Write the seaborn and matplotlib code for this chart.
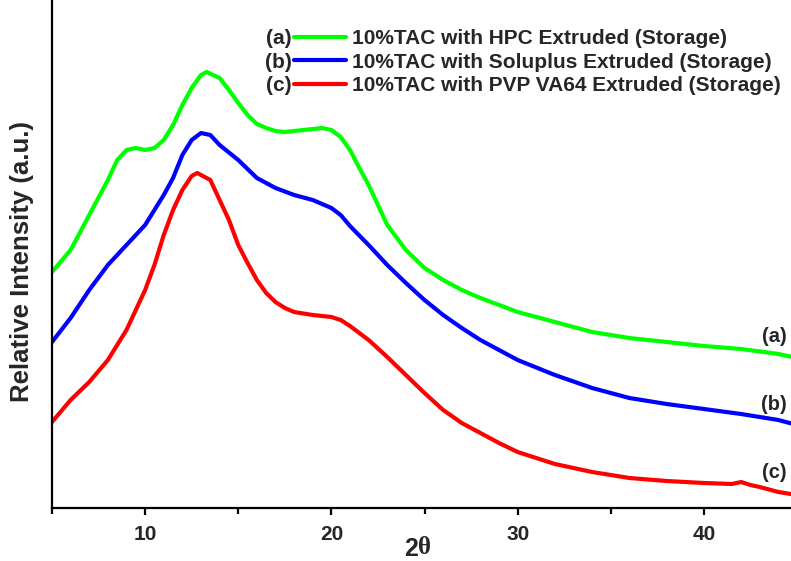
import matplotlib
matplotlib.use("Agg")
import matplotlib.pyplot as plt
from matplotlib.lines import Line2D
from matplotlib.ticker import MultipleLocator
import seaborn as sns
import pandas as pd

# ---- data (intensity in arbitrary units) ----
x_a = [5, 6, 7, 8, 8.5, 9, 9.5, 10, 10.5, 11, 11.5, 12, 12.5, 13, 13.3, 14, 14.5, 15, 15.5, 16,
       16.5, 17, 17.5, 18, 18.5, 19, 19.5, 20, 20.5, 21, 21.5, 22, 22.5, 23, 24, 25, 26, 27, 28,
       29, 30, 32, 34, 36, 38, 40, 42, 44, 45]
y_a = [236, 258, 293, 328, 348, 358, 360, 358, 360, 368, 383, 403, 420, 433, 436, 430, 418, 405,
       393, 384, 380, 377, 376, 377, 378, 379, 380, 378, 371, 358, 340, 323, 303, 283, 258, 240,
       228, 218, 210, 203, 196, 186, 176, 170, 166, 162, 159, 154, 150]

x_b = [5, 6, 7, 8, 9, 10, 10.5, 11, 11.5, 12, 12.5, 13, 13.5, 14, 15, 16, 17, 18, 19, 20, 20.5,
       21, 22, 23, 24, 25, 26, 27, 28, 29, 30, 32, 34, 36, 38, 40, 42, 44, 45]
y_b = [166, 190, 218, 243, 263, 283, 298, 313, 330, 353, 368, 375, 373, 363, 348, 330, 320, 313,
       308, 300, 293, 282, 263, 243, 225, 208, 193, 180, 168, 158, 148, 133, 120, 110, 104, 99,
       94, 88, 83]

x_c = [5, 6, 7, 8, 9, 10, 10.5, 11, 11.5, 12, 12.5, 12.8, 13.5, 14, 14.5, 15, 15.5, 16, 16.5,
       17, 17.5, 18, 19, 20, 20.5, 21, 22, 23, 24, 25, 26, 27, 28, 29, 30, 32, 34, 36, 38, 40,
       41.5, 42, 42.5, 43, 44, 45]
y_c = [86, 108, 126, 148, 178, 218, 243, 273, 298, 318, 332, 335, 328, 308, 288, 263, 245, 228,
       215, 206, 200, 196, 193, 191, 188, 182, 168, 151, 133, 115, 98, 85, 75, 65, 56, 44, 36,
       30, 27, 25, 24, 26, 23, 21, 16, 13]

series_names = ["10%TAC with HPC Extruded (Storage)",
                "10%TAC with Soluplus Extruded (Storage)",
                "10%TAC with PVP VA64 Extruded (Storage)"]
series_tags = ["(a)", "(b)", "(c)"]
colors = ["#00FF00", "#0000FF", "#FF0000"]
x_ticks = [10, 20, 30, 40]

df = pd.concat([
    pd.DataFrame({"x": x_a, "y": y_a, "s": series_names[0]}),
    pd.DataFrame({"x": x_b, "y": y_b, "s": series_names[1]}),
    pd.DataFrame({"x": x_c, "y": y_c, "s": series_names[2]}),
])

sns.set_style("ticks")
plt.rcParams["font.family"] = ["Liberation Sans", "DejaVu Sans"]
plt.rcParams["font.weight"] = "bold"

fig = plt.figure(figsize=(7.91, 5.61), dpi=100)
W, H = 791, 561
ax = fig.add_axes([52 / W, (H - 508) / H, (797 - 52) / W, 508 / H])

sns.lineplot(data=df, x="x", y="y", hue="s", palette=dict(zip(series_names, colors)),
             linewidth=3.0, ax=ax, legend=False, estimator=None, sort=False)

ax.set_xlim(5, 45)
ax.set_ylim(0, 508)
ax.set_yticks([])
ax.xaxis.set_minor_locator(MultipleLocator(5))
ax.set_xticks(x_ticks)
ax.set_xticklabels([str(t) for t in x_ticks], fontweight="bold", fontsize=15)
ax.tick_params(axis="x", which="major", direction="out", length=5, width=1.6, pad=7,
               color="black")
ax.tick_params(axis="x", which="minor", direction="out", length=4, width=1.6, color="black")
sns.despine(ax=ax, top=True, right=True)
for sp in ["left", "bottom"]:
    ax.spines[sp].set_linewidth(1.6)
    ax.spines[sp].set_color("black")

ax.set_xlabel("")
ax.set_ylabel("")
fig.text(22 / W, 1 - 262 / H, "Relative Intensity (a.u.)", rotation=90, ha="center",
         va="center", fontsize=18.5, fontweight="bold")
fig.text(418 / W, 1 - 549 / H, "2", ha="right", va="center", fontsize=18, fontweight="bold")
fig.text(418 / W, 1 - 548 / H, "θ", ha="left", va="center", fontsize=18, fontweight="bold",
         family=["Liberation Serif", "DejaVu Serif"])

# legend
handles = [Line2D([0], [0], color=c, linewidth=3.0) for c in colors]
leg = ax.legend(handles, series_names, loc="upper left",
                bbox_to_anchor=(294 / W, 1 - 29 / H), bbox_transform=fig.transFigure,
                frameon=False, handlelength=2.5, handletextpad=0.3, labelspacing=0.22,
                borderaxespad=0, borderpad=0, prop={"weight": "bold", "size": 15})
fig.canvas.draw()
renderer = fig.canvas.get_renderer()
for tag, txt in zip(series_tags, leg.get_texts()):
    bb = txt.get_window_extent(renderer)
    yc = (bb.y0 + bb.y1) / 2
    fig.text(292 / W, yc / H, tag, ha="right", va="center", fontsize=15, fontweight="bold")

# right-end labels
for tag, ypx in zip(series_tags, [337, 405, 472]):
    fig.text(787 / W, 1 - ypx / H, tag, ha="right", va="center", fontsize=14.5,
             fontweight="bold")

fig.savefig("out.png", dpi=100)
